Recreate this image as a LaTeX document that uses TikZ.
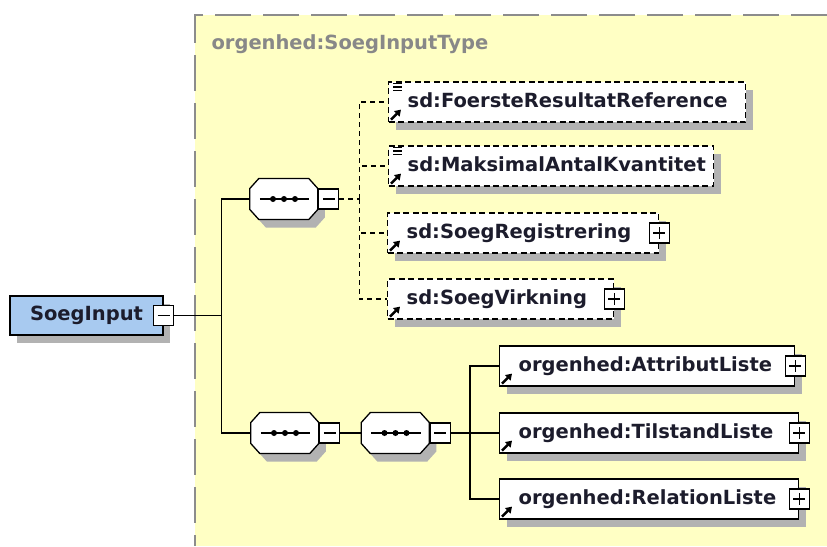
\documentclass[tikz,border=0pt]{standalone}
\usepackage{fontspec}
\setmainfont{DejaVu Sans}
\usetikzlibrary{positioning,shadows,arrows.meta}
\definecolor{paleyellow}{RGB}{255,255,196}
\definecolor{paleblue}{RGB}{168,202,240}
\definecolor{framegray}{RGB}{140,140,140}
\definecolor{titlegray}{RGB}{136,136,136}
\definecolor{inkdark}{RGB}{28,28,44}
\newcommand\octagonat[3]{([shift={(#2,#3)}]#1.west) -- ++(0,-10.5) -- ++(9,-10) -- ++(50,0) -- ++(9,10)
    -- ++(0,21) -- ++(-9,10) -- ++(-50,0) -- ++(-9,-10) -- cycle}
\begin{document}
\begin{tikzpicture}[x=1pt,y=-1pt,
    boxshadow/.style={drop shadow={shadow xshift=7pt,shadow yshift=-8pt,fill=black!30,opacity=1}},
    label font/.style={font=\fontsize{19.5pt}{22pt}\selectfont\bfseries},
    root/.style={draw,line width=1.3pt,fill=paleblue,boxshadow,minimum width=153pt,minimum height=39pt,label font,text=inkdark},
    elem/.style={draw,line width=1.3pt,fill=white,boxshadow,inner xsep=0pt,inner ysep=0pt,minimum height=40pt,
        text width=#1,align=left,anchor=west,label font,text=inkdark,text height=14pt,text depth=4pt,
        execute at begin node={\noindent\hspace*{19pt}}},
    optelem/.style={elem=#1,dash pattern=on 6pt off 3.5pt},
    seq/.style={inner sep=0pt,minimum width=68pt,minimum height=41pt},
    toggle/.style={draw,line width=1.2pt,fill=white,minimum size=20pt,inner sep=0pt},
    collapse/.style={toggle,path picture={
        \draw[line width=1.2pt] ([xshift=4pt]path picture bounding box.west) -- ([xshift=-4pt]path picture bounding box.east);}},
    expand/.style={toggle,path picture={
        \draw[line width=1.2pt] ([xshift=4pt]path picture bounding box.west) -- ([xshift=-4pt]path picture bounding box.east);
        \draw[line width=1.2pt] ([yshift=-4pt]path picture bounding box.north) -- ([yshift=4pt]path picture bounding box.south);}},
    conn/.style={line width=1.3pt},
    optconn/.style={line width=1.3pt,dash pattern=on 5pt off 4pt},
    refarrow/.style={line width=2.4pt,-{Triangle[length=6pt,width=7.5pt]}}]
    \useasboundingbox (0,0) rectangle (827,546);
    %% Type area
    \fill[white] (0,0) rectangle (827,546);
    \fill[paleyellow] (195,15) rectangle (827,546);
    \draw[framegray,line width=2pt,dash pattern=on 36pt off 12pt] (827,15) -- (195,15) -- (195,546);
    \node[anchor=base west,label font,text=titlegray] (title) at (208,49) {orgenhed:SoegInputType};
    %% Sequence octagons
    \node[seq] (s1) at (284,199) {};
    \node[seq] (s2) at (285,433) {};
    \node[seq] (s3) at (395.5,433) {};
    \foreach \s in {s1,s2,s3} {
        \fill[black!30] \octagonat{\s}{7}{8};
        \draw[line width=1.3pt,fill=white] \octagonat{\s}{0}{0};
        \draw[line width=1.3pt] ([xshift=10pt]\s.west) -- ([xshift=-9pt]\s.east);
        \foreach \d in {-11,0,11} \fill ([xshift=\d pt]\s.center) circle (3pt);
    }
    %% Root element
    \node[root] (in) at (86.5,315.5) {SoegInput};
    \node[collapse] (inm) at (in.east) {};
    \coordinate[right=47pt of inm] (j0);
    %% First sequence
    \node[collapse,right=0pt of s1] (s1m) {};
    \coordinate[right=20pt of s1m] (j1);
    \node[optelem=357pt] (e1) at (388,102) {sd:FoersteResultatReference};
    \node[optelem=325pt] (e2) at (388,166) {sd:MaksimalAntalKvantitet};
    \node[optelem=271pt] (e3) at (387,233) {sd:SoegRegistrering};
    \node[optelem=226pt] (e4) at (387,299) {sd:SoegVirkning};
    \node[expand] (e3p) at (e3.east) {};
    \node[expand] (e4p) at (e4.east) {};
    %% Second sequence
    \node[collapse,right=0pt of s2] (s2m) {};
    \node[collapse,right=0pt of s3] (s3m) {};
    \coordinate[right=19pt of s3m] (j3);
    \node[elem=295pt] (r1) at (499,366) {orgenhed:AttributListe};
    \node[elem=299pt] (r2) at (499,433) {orgenhed:TilstandListe};
    \node[elem=299pt] (r3) at (499,499) {orgenhed:RelationListe};
    \node[expand] (r1p) at (r1.east) {};
    \node[expand] (r2p) at (r2.east) {};
    \node[expand] (r3p) at (r3.east) {};
    %% Icons
    \foreach \n in {e1,e2,e3,e4,r1,r2,r3}
        \draw[refarrow] ([shift={(3,-3)}]\n.south west) -- ++(10,-10);
    \foreach \n in {e1,e2}
        \foreach \k in {2,5.5,9}
            \draw[line width=1.4pt] ([shift={(5,\k)}]\n.north west) -- ++(9,0);
    %% Connectors
    \draw[conn] (inm.east) -- (j0);
    \draw[conn] (j0) |- (s1.west);
    \draw[conn] (j0) |- (s2.west);
    \draw[optconn] (s1m.east) -- (j1);
    \foreach \n in {e1,e2,e3,e4}
        \draw[optconn] (j1) |- (\n.west);
    \draw[conn] (s2m.east) -- (s3.west);
    \draw[conn] (s3m.east) -- (j3);
    \foreach \n in {r1,r2,r3}
        \draw[conn] (j3) |- (\n.west);
\end{tikzpicture}
\end{document}
